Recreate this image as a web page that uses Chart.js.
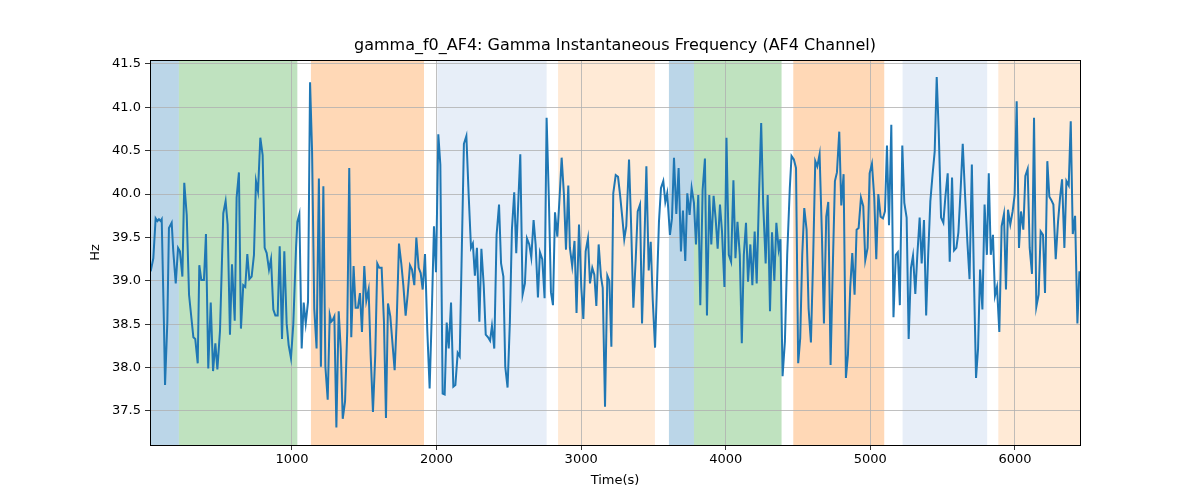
<!DOCTYPE html>
<html><head><meta charset="utf-8">
<script src="https://cdn.jsdelivr.net/npm/chart.js@4.4.1/dist/chart.umd.min.js"></script>
<style>html,body{margin:0;padding:0;background:#fff}#wrap{width:1200px;height:500px}</style>
</head><body><div id="wrap"><canvas id="c" width="1200" height="500"></canvas></div>
<script>
const titleText = "gamma_f0_AF4: Gamma Instantaneous Frequency (AF4 Channel)";
const xLabel = "Time(s)";
const yLabel = "Hz";
const times = [22.6,41,57,69,80,92,99,115,122,138,149,168,179,196,212,225,242,255,272,288,318,331,348,359,373,391,405,421,438,454,470,484,502,525,541,555,571,585,604,617,633,647,663,677,691,705,721,737,751,765,781,797,811,825,841,855,871,885,901,915,931,947,963,977,993,1009,1028,1037,1051,1067,1081,1095,1111,1125,1139,1154,1170,1186,1200,1217,1231,1247,1261,1272,1282,1293,1307,1323,1337,1351,1367,1382,1396,1410,1426,1440,1456,1470,1484,1500,1514,1530,1544,1560,1576,1590,1604,1620,1636,1650,1664,1680,1696,1710,1724,1740,1756,1770,1786,1800,1816,1830,1846,1860,1876,1890,1904,1920,1936,1952,1966,1982,1996,2012,2026,2042,2056,2070,2084,2100,2116,2130,2146,2160,2175,2189,2206,2222,2238,2251,2265,2279,2296,2310,2326,2340,2356,2370,2383,2399,2415,2432,2446,2462,2475,2491,2507,2521,2537,2551,2567,2579,2595,2611,2625,2641,2655,2671,2685,2701,2715,2731,2747,2761,2777,2791,2805,2819,2835,2851,2865,2881,2895,2911,2922,2938,2954,2968,2985,3001,3015,3031,3047,3061,3077,3091,3105,3121,3137,3149,3165,3181,3195,3209,3222,3239,3255,3269,3285,3298,3312,3331,3345,3361,3377,3391,3407,3421,3437,3451,3467,3481,3495,3511,3524,3538,3552,3568,3582,3595,3614,3628,3642,3658,3674,3690,3704,3720,3734,3750,3764,3780,3794,3810,3824,3840,3856,3870,3886,3900,3916,3930,3944,3960,3974,3991,4005,4021,4037,4053,4067,4081,4097,4111,4125,4140,4154,4170,4184,4200,4214,4230,4245,4259,4276,4290,4306,4320,4336,4350,4366,4378,4393,4409,4425,4443,4455,4471,4486,4501,4515,4529,4543,4559,4573,4589,4605,4619,4633,4649,4665,4679,4695,4709,4725,4739,4755,4769,4785,4799,4815,4831,4845,4861,4875,4891,4905,4919,4935,4951,4965,4981,4995,5011,5027,5041,5055,5071,5087,5101,5115,5129,5145,5160,5176,5190,5204,5221,5235,5251,5265,5281,5295,5311,5325,5341,5355,5371,5386,5400,5415,5430,5445,5459,5473,5489,5505,5519,5535,5549,5565,5579,5595,5609,5625,5639,5655,5671,5686,5702,5716,5731,5745,5759,5775,5790,5806,5819,5833,5848,5862,5876,5892,5908,5924,5938,5952,5968,5984,5998,6012,6028,6042,6058,6072,6088,6102,6118,6132,6148,6164,6178,6194,6208,6224,6238,6252,6266,6282,6298,6312,6326,6342,6356,6372,6386,6400,6416,6432,6446];
const values = [39.11,39.26,39.72,39.69,39.71,39.69,39.71,38.45,37.80,38.53,39.61,39.67,39.34,38.97,39.38,39.34,39.05,40.13,39.76,38.84,38.35,38.33,38.05,39.18,39.01,39.01,39.54,37.99,38.75,37.96,38.28,37.98,38.42,39.78,39.92,39.65,38.38,39.19,38.54,39.96,40.25,38.45,38.95,38.93,39.31,39.02,39.05,39.30,40.15,40.03,40.65,40.45,39.38,39.32,39.13,39.25,38.67,38.60,38.60,39.40,38.33,39.34,38.51,38.26,38.11,38.50,39.38,39.68,39.77,38.22,38.75,38.51,38.76,41.29,40.49,38.68,38.22,40.18,38.01,40.09,38.01,37.63,38.61,38.53,38.55,38.59,37.31,38.65,38.22,37.41,37.61,38.42,40.30,38.35,39.17,38.69,38.69,38.86,38.41,39.17,38.77,38.90,38.15,37.49,38.15,39.20,39.15,39.15,38.53,37.42,38.74,38.59,38.26,37.97,38.53,39.43,39.20,38.95,38.60,38.84,39.18,39.13,38.95,39.50,39.15,39.09,38.90,39.31,38.42,37.76,38.57,39.63,39.10,40.69,40.34,37.70,37.69,38.52,38.22,38.75,37.78,37.80,38.17,38.13,39.40,40.58,40.67,39.99,39.38,39.43,39.06,39.38,38.53,39.37,38.95,38.38,38.35,38.31,38.48,38.22,39.53,39.88,39.20,39.05,38.01,37.77,38.53,39.59,40.02,39.32,39.99,40.46,38.84,38.97,39.49,39.42,39.27,39.70,39.42,38.81,39.33,39.25,38.80,40.88,39.92,38.87,38.72,39.79,39.51,39.97,40.42,39.99,39.36,40.10,39.38,39.17,39.46,38.63,39.65,38.92,38.56,39.34,39.49,38.97,39.15,39.07,38.71,39.42,39.05,38.92,37.55,39.06,39.00,38.24,40.01,40.22,40.20,39.99,39.72,39.48,39.63,40.40,39.67,38.69,39.24,39.80,39.88,38.51,39.42,40.32,39.12,39.45,38.78,38.23,38.93,39.68,40.07,40.15,39.91,40.01,39.53,39.72,40.42,39.77,40.30,39.34,39.81,39.23,40.01,39.76,40.07,39.90,39.42,39.99,38.72,40.05,40.41,38.60,39.99,39.42,39.98,39.72,39.37,39.88,39.57,38.93,40.65,39.30,39.22,40.16,39.26,39.68,39.30,38.28,39.30,39.67,38.99,39.42,38.95,39.57,38.97,39.99,40.82,39.88,39.20,39.99,38.65,39.56,39.00,39.67,39.36,39.48,37.90,38.30,39.30,40.07,40.44,40.40,40.30,38.05,38.34,39.30,39.84,39.59,38.68,38.29,39.30,40.38,40.32,40.46,39.53,38.51,39.74,39.91,38.03,39.07,40.15,40.25,40.72,39.87,40.23,37.88,38.15,38.93,39.32,38.84,39.59,39.61,39.96,39.86,39.24,39.38,40.24,40.35,39.96,39.25,40.00,39.74,39.72,39.80,40.56,39.64,40.80,38.58,39.30,39.33,38.72,40.56,39.90,39.73,38.33,39.15,39.29,38.85,39.30,39.73,39.20,39.70,38.60,39.30,39.92,40.22,40.49,41.35,40.72,39.73,39.67,39.97,40.24,39.22,40.19,39.35,39.38,39.56,40.07,40.58,39.99,39.45,39.02,40.34,39.08,37.88,38.22,39.13,38.67,39.88,39.30,40.24,39.30,39.53,38.83,38.93,38.41,39.63,39.77,38.90,39.82,39.65,39.80,39.99,41.07,39.38,39.80,39.59,40.21,40.29,39.38,39.08,40.88,38.70,38.84,39.57,39.53,38.86,40.38,39.97,39.93,39.88,39.25,39.68,39.96,40.17,39.38,40.15,40.10,40.84,39.54,39.75,38.51,39.11];
const spanStarts = [18, 218, 1131, 2005, 2840, 3607, 3780, 4467, 5223, 5885];
const spanEnds   = [218, 1037, 1913, 2761, 3510, 3780, 4386, 5096, 5808, 6450];
const spanColors = ["rgba(31,119,180,0.3)","rgba(44,160,44,0.3)","rgba(255,127,14,0.3)","rgba(174,199,232,0.3)","rgba(255,187,120,0.3)","rgba(31,119,180,0.3)","rgba(44,160,44,0.3)","rgba(255,127,14,0.3)","rgba(174,199,232,0.3)","rgba(255,187,120,0.3)"];
const xTicks = [1000,2000,3000,4000,5000,6000];
const yTicks = [37.5,38.0,38.5,39.0,39.5,40.0,40.5,41.0,41.5];
const xMin = 18, xMax = 6450, yMin = 37.108, yMax = 41.546;

const spans = {
  id: 'spans',
  beforeDraw(chart) {
    const {ctx, chartArea: a, scales: {x}} = chart;
    ctx.save();
    ctx.beginPath(); ctx.rect(a.left, a.top, a.right - a.left, a.bottom - a.top); ctx.clip();
    for (let i = 0; i < spanStarts.length; i++) {
      const x0 = x.getPixelForValue(spanStarts[i]), x1 = x.getPixelForValue(spanEnds[i]);
      ctx.fillStyle = spanColors[i];
      ctx.fillRect(x0, a.top, x1 - x0, a.bottom - a.top);
    }
    ctx.restore();
  },
  afterDraw(chart) {
    const {ctx, chartArea: a} = chart;
    ctx.save();
    ctx.strokeStyle = '#000'; ctx.lineWidth = 1;
    ctx.strokeRect(Math.round(a.left) + 0.5, Math.round(a.top) + 0.5, Math.round(a.right - a.left), Math.round(a.bottom - a.top));
    ctx.fillStyle = '#000';
    ctx.textAlign = 'center'; ctx.textBaseline = 'middle';
    const cx = (a.left + a.right) / 2, cy = (a.top + a.bottom) / 2;
    ctx.font = '16px "DejaVu Sans"';
    ctx.fillText(titleText, cx, 46);
    ctx.font = '13px "DejaVu Sans"';
    ctx.fillText(xLabel, cx, 481);
    ctx.translate(96, cy); ctx.rotate(-Math.PI / 2);
    ctx.fillText(yLabel, 0, 0);
    ctx.restore();
  }
};

const font = {family: 'DejaVu Sans', size: 13};
new Chart(document.getElementById('c'), {
  type: 'line',
  data: {
    datasets: [{
      data: times.map((t, i) => ({x: t, y: values[i]})),
      borderColor: '#1f77b4', borderWidth: 2, pointRadius: 0, tension: 0, fill: false
    }]
  },
  options: {
    responsive: false, animation: false,
    layout: {padding: {left: 0, right: 120, top: 60, bottom: 0}},
    plugins: {legend: {display: false}, tooltip: {enabled: false}, title: {display: false}},
    scales: {
      x: {
        type: 'linear', min: xMin, max: xMax,
        afterBuildTicks: s => { s.ticks = xTicks.map(v => ({value: v})); },
        afterFit: s => { s.height = 55; },
        ticks: {color: '#000', font: font, padding: 2, maxRotation: 0, callback: v => String(v)},
        grid: {color: '#b0b0b0', lineWidth: 0.8, tickColor: '#000', tickLength: 5},
        border: {display: false}
      },
      y: {
        min: yMin, max: yMax,
        afterBuildTicks: s => { s.ticks = yTicks.map(v => ({value: v})); },
        afterFit: s => { s.width = 150; },
        ticks: {color: '#000', font: font, padding: 4, callback: v => Number(v).toFixed(1)},
        grid: {color: '#b0b0b0', lineWidth: 0.8, tickColor: '#000', tickLength: 5},
        border: {display: false}
      }
    }
  },
  plugins: [spans]
});
</script></body></html>
